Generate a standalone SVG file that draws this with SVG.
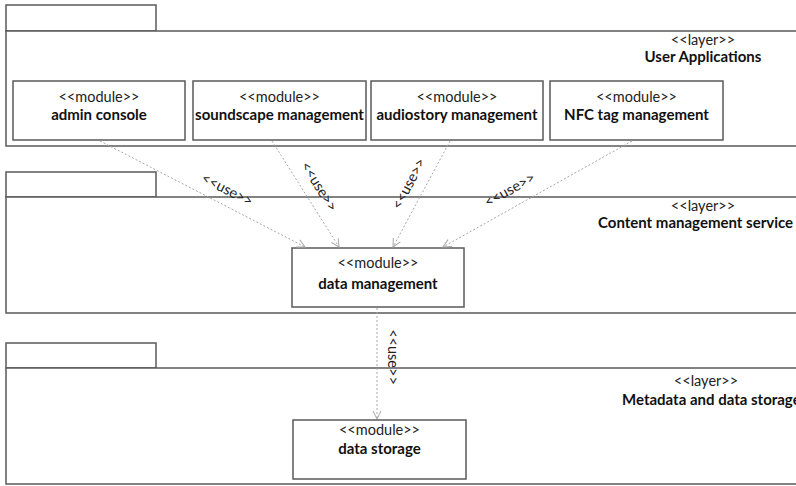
<svg xmlns="http://www.w3.org/2000/svg" width="796" height="486" viewBox="0 0 796 486">
<defs>
<style>
.pkg{fill:#fff;stroke:#5a5a5a;stroke-width:1.5}
.mod{fill:#fff;stroke:#5a5a5a;stroke-width:1.5}
.st{font-family:Lato,"Liberation Sans",sans-serif;font-size:14.5px;fill:#222;text-anchor:middle}
.nm{font-family:Lato,"Liberation Sans",sans-serif;font-size:15px;font-weight:bold;fill:#111;text-anchor:middle}
.dep{fill:none;stroke:#a8a8a8;stroke-width:1;stroke-dasharray:2,2;marker-end:url(#open)}
.lbl{font-family:Lato,"Liberation Sans",sans-serif;font-size:14.5px;fill:#222;text-anchor:middle}
</style>
<marker id="open" markerWidth="10" markerHeight="10" refX="9" refY="5" orient="auto" markerUnits="userSpaceOnUse">
<path d="M1,1 L9,5 L1,9" fill="none" stroke="#a8a8a8" stroke-width="1"/>
</marker>
</defs>
<rect width="796" height="486" fill="#fff"/>

<g id="layer-user-applications">
<rect class="pkg" x="6" y="5" width="150" height="26"/>
<rect class="pkg" x="6" y="31" width="800" height="115"/>
<text class="st" x="703" y="45">&lt;&lt;layer&gt;&gt;</text>
<text class="nm" x="703" y="62">User Applications</text>
</g>

<g id="layer-content-management">
<rect class="pkg" x="6" y="172" width="150" height="25"/>
<rect class="pkg" x="6" y="197" width="800" height="116"/>
<text class="st" x="703" y="211">&lt;&lt;layer&gt;&gt;</text>
<text class="nm" x="598" y="228" style="text-anchor:start">Content management service</text>
</g>

<g id="layer-metadata">
<rect class="pkg" x="6" y="343" width="150" height="25"/>
<rect class="pkg" x="6" y="368" width="800" height="116"/>
<text class="st" x="706" y="386">&lt;&lt;layer&gt;&gt;</text>
<text class="nm" x="622" y="405" style="text-anchor:start">Metadata and data storage</text>
</g>

<g id="admin-console">
<rect class="mod" x="13" y="81" width="172" height="59"/>
<text class="st" x="99" y="102">&lt;&lt;module&gt;&gt;</text>
<text class="nm" x="99" y="120">admin console</text>
</g>
<g id="soundscape-management">
<rect class="mod" x="193" y="81" width="173" height="59"/>
<text class="st" x="279.5" y="102">&lt;&lt;module&gt;&gt;</text>
<text class="nm" x="279.5" y="120">soundscape management</text>
</g>
<g id="audiostory-management">
<rect class="mod" x="371" y="81" width="172" height="59"/>
<text class="st" x="457" y="102">&lt;&lt;module&gt;&gt;</text>
<text class="nm" x="457" y="120">audiostory management</text>
</g>
<g id="nfc-tag-management">
<rect class="mod" x="550" y="81" width="173" height="59"/>
<text class="st" x="636.5" y="102">&lt;&lt;module&gt;&gt;</text>
<text class="nm" x="636.5" y="120">NFC tag management</text>
</g>
<g id="data-management">
<rect class="mod" x="292" y="248" width="172" height="59"/>
<text class="st" x="378" y="268">&lt;&lt;module&gt;&gt;</text>
<text class="nm" x="378" y="289">data management</text>
</g>
<g id="data-storage">
<rect class="mod" x="293" y="420" width="173" height="59"/>
<text class="st" x="379.5" y="435">&lt;&lt;module&gt;&gt;</text>
<text class="nm" x="379.5" y="454">data storage</text>
</g>

<g id="connectors">
<line class="dep" x1="100" y1="141" x2="305" y2="247"/>
<line class="dep" x1="272" y1="141" x2="339" y2="247"/>
<line class="dep" x1="450" y1="141" x2="393" y2="247"/>
<line class="dep" x1="632" y1="141" x2="443" y2="247"/>
<line class="dep" x1="377" y1="308" x2="377" y2="419"/>
<text class="lbl" transform="translate(225,194) rotate(27)">&lt;&lt;use&gt;&gt;</text>
<text class="lbl" transform="translate(315,189) rotate(58)">&lt;&lt;use&gt;&gt;</text>
<text class="lbl" transform="translate(413,186) rotate(-62)">&lt;&lt;use&gt;&gt;</text>
<text class="lbl" transform="translate(512,194) rotate(-29)">&lt;&lt;use&gt;&gt;</text>
<text class="lbl" transform="translate(388,357) rotate(90)">&lt;&lt;use&gt;&gt;</text>
</g>
</svg>
